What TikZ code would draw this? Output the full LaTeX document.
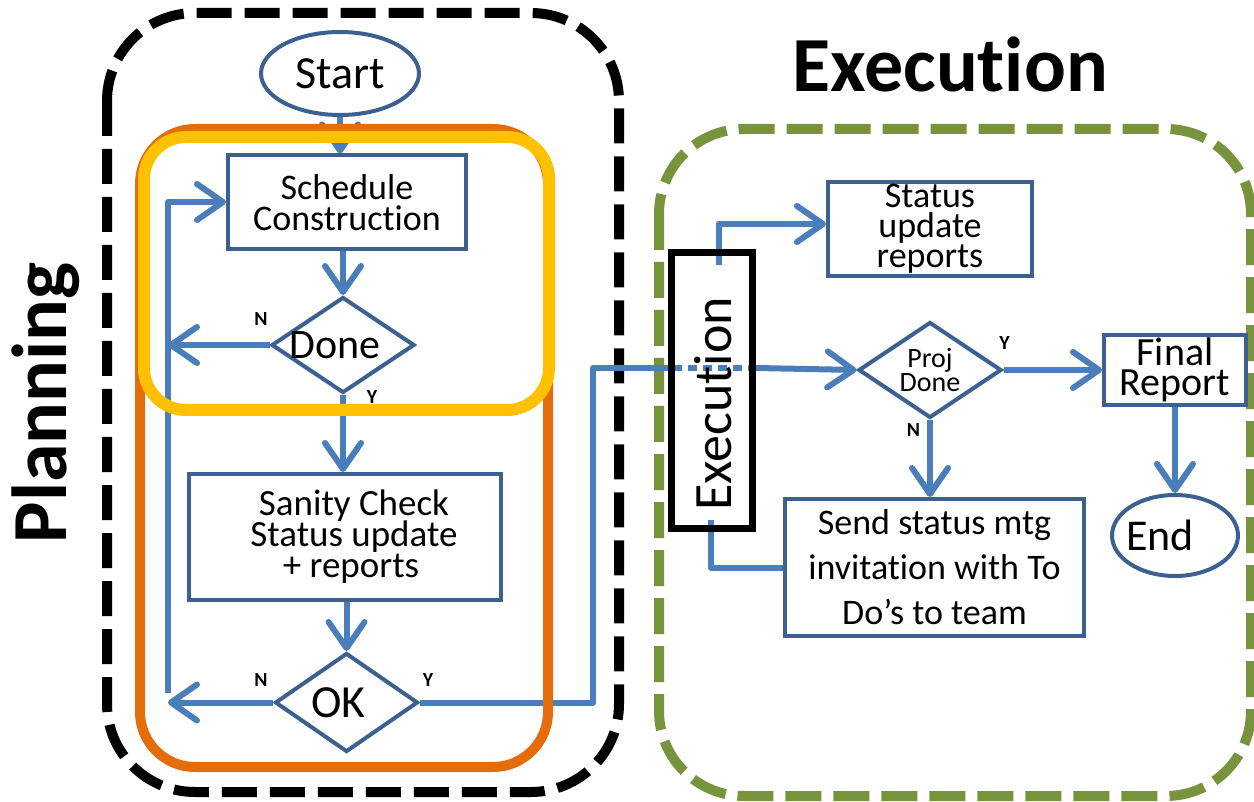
\documentclass[tikz,border=0pt]{standalone}
\usepackage{fontspec}
\setmainfont[Ligatures=NoCommon]{Carlito}
\usetikzlibrary{shapes.geometric,arrows.meta}
\definecolor{boxblue}{HTML}{3C6090}
\definecolor{arrblue}{HTML}{4A7EBB}
\definecolor{orng}{HTML}{E46C0A}
\definecolor{yel}{HTML}{FFC000}
\definecolor{grn}{HTML}{77933C}
\pgfdeclarelayer{frames}
\pgfdeclarelayer{flows}
\pgfdeclarelayer{hl}
\pgfsetlayers{frames,flows,hl,main}
\setlength{\lineskiplimit}{-100pt}
\newcommand{\fs}[2]{\fontsize{#1}{#2}\selectfont}
\begin{document}
\begin{tikzpicture}[x=1pt,y=-1pt,
  fbox/.style={draw=boxblue, line width=4pt, fill=white, inner sep=0pt, align=center},
  fdia/.style={diamond, shape aspect=1.5, draw=boxblue, line width=4pt, fill=white, inner sep=0pt, align=center},
  fell/.style={ellipse, draw=boxblue, line width=4pt, fill=white, inner sep=0pt},
  flow/.style={draw=arrblue, line width=6pt, line join=round},
  arr/.style={flow, -{Straight Barb[length=26pt,width=36pt,line cap=round,line join=round]}},
  yn/.style={font=\fs{20}{20}\bfseries, inner sep=0pt},
  ttl/.style={font=\fs{78}{78}\bfseries, inner sep=0pt}
]
\useasboundingbox (0,0) rectangle (1254,802);

% titles
\node[ttl, anchor=base] (ttlexec) at (950,92) {Execution};
\node[ttl, anchor=base, rotate=90] (ttlplan) at (66,403) {Planning};

% nodes
\node[fell, minimum width=158pt, minimum height=83pt, font=\fs{46}{46}] (start) at (340,73.5) {Start};
\node[fbox, minimum width=238pt, minimum height=94pt, font=\fs{36}{31}] (sched) at (347,202.5) {Schedule\\Construction};
\node[fdia, minimum width=143pt, minimum height=96pt, font=\fs{42}{42}] (done) at (343,345) {\kern-8pt Done\kern8pt};
\node[fbox, minimum width=312pt, minimum height=126pt, font=\fs{37}{31}] (sanity) at (345,537) {\kern18pt Sanity Check\\\kern18pt Status update\\\kern12pt + reports};
\node[fdia, minimum width=143pt, minimum height=99pt, font=\fs{46}{46}] (ok) at (346.5,702.5) {\kern-8pt OK\kern8pt};

\node[draw=black, line width=7pt, minimum width=81pt, minimum height=275pt, inner sep=0pt] (exec) at (712,390.5) {};
\node[rotate=90, font=\fs{54}{54}, inner sep=0pt] (exectxt) at (713.5,404) {Execution};

\node[fbox, minimum width=204pt, minimum height=94pt, font=\fs{36}{30}] (status) at (930,229) {Status\\update\\reports};
\node[fdia, minimum width=143pt, minimum height=96pt, font=\fs{28}{24}] (proj) at (930,370) {Proj\\Done};
\node[fbox, minimum width=142pt, minimum height=70pt, font=\fs{40}{30}] (final) at (1175,370) {Final\\Report};
\node[fbox, minimum width=299pt, minimum height=137pt, font=\fs{36}{45}] (send) at (934.5,567.5) {Send status mtg\\invitation with To\\Do’s to team};
\node[fell, minimum width=126pt, minimum height=81pt, font=\fs{44}{44}] (end) at (1175,535.5) {\kern-15pt End\kern15pt};

% Y/N labels
\node[yn] (n1) at (261,319) {N};
\node[yn] (y1) at (372,397) {Y};
\node[yn] (n2) at (261,680) {N};
\node[yn] (y2) at (428,680) {Y};
\node[yn] (y3) at (1004.5,343.5) {Y};
\node[yn] (n3) at (913.5,430.5) {N};

% coordinates
\coordinate (fbTop) at (168,202);
\coordinate (fbBot) at (168,693);
\coordinate (yc) at (593,368);
\coordinate (et) at (718.5,265);
\coordinate (eb) at (711,520);

% dashed frames
\begin{pgfonlayer}{frames}
\draw[black, line width=10pt, dash pattern=on 35pt off 13pt, rounded corners=88pt] (107,13) rectangle (619,792);
\draw[grn, line width=10pt, dash pattern=on 36pt off 12pt, rounded corners=85pt] (659,129) rectangle (1251,796);
\end{pgfonlayer}

% connectors
\begin{pgfonlayer}{flows}
\draw[arr] (start.south) -- (start.south |- sched.north);
\draw[arr] (done.north |- sched.south) -- (done.north);
\draw[arr] (done.south) -- (done.south |- sanity.north);
\draw[arr] (ok.north |- sanity.south) -- (ok.north);
\draw[arr] (done.west) -- (done.west -| fbTop);
\draw[arr] (ok.west) -- (ok.west -| fbTop);
\draw[arr] (fbBot) -- (fbTop) -- (fbTop -| sched.west);
\draw[flow] (ok.east) -| (yc) -- ([xshift=5pt]yc -| exec.west);
\draw[flow, dash pattern=on 9pt off 6pt] ([xshift=5pt]yc -| exec.west) -- ([xshift=-6pt]yc -| exec.east);
\draw[arr] (yc -| exec.east) -- (proj.west);
\draw[arr] (et) |- ([yshift=5pt]status.west);
\draw[flow] (send.west) -| (eb);
\draw[arr] (proj.east) -- (final.west);
\draw[arr] (proj.south) -- (proj.south |- send.north);
\draw[arr] (final.south) -- (final.south |- end.north);
\end{pgfonlayer}

% highlight frames
\begin{pgfonlayer}{hl}
\draw[orng, line width=10pt, rounded corners=55pt] (140,129) rectangle (548,767);
\draw[yel, line width=12pt, rounded corners=42pt] (144,137) rectangle (549,410);
\end{pgfonlayer}
\end{tikzpicture}
\end{document}
